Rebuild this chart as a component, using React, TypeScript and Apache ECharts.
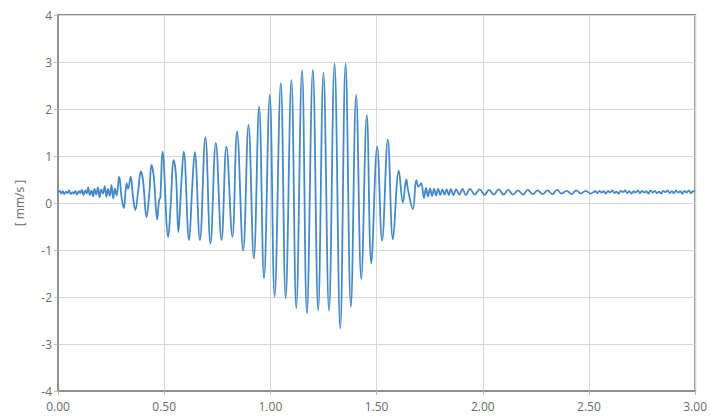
import React, { useEffect, useRef } from "react";
import * as echarts from "echarts";

// [time s, velocity mm/s]
const quietStart: [number, number][] = [
  [0.0, 0.22], [0.008, 0.26], [0.015, 0.2], [0.022, 0.25], [0.03, 0.19], [0.038, 0.24],
  [0.045, 0.21], [0.052, 0.27], [0.06, 0.19], [0.068, 0.23], [0.075, 0.2], [0.082, 0.26],
  [0.09, 0.18], [0.098, 0.25], [0.105, 0.21], [0.112, 0.28], [0.12, 0.17], [0.128, 0.27],
  [0.135, 0.2], [0.142, 0.33], [0.15, 0.17], [0.158, 0.27], [0.165, 0.14], [0.172, 0.3],
  [0.18, 0.18], [0.188, 0.33], [0.196, 0.12], [0.204, 0.29], [0.212, 0.2], [0.22, 0.36],
  [0.228, 0.13], [0.236, 0.3], [0.244, 0.15], [0.252, 0.38], [0.26, 0.1], [0.268, 0.31],
  [0.276, 0.16],
];

const burst: [number, number][] = [
  [0.288, 0.56], [0.3, 0.1], [0.31, -0.11], [0.323, 0.42], [0.33, 0.3], [0.342, 0.56],
  [0.354, 0.1], [0.364, -0.15], [0.378, 0.28], [0.39, 0.67], [0.4, 0.49], [0.417, -0.3],
  [0.43, 0.21], [0.44, 0.81], [0.451, 0.56], [0.467, -0.35], [0.476, 0.06], [0.482, 0.12],
  [0.492, 1.09], [0.519, -0.72], [0.53, -0.08], [0.545, 0.91], [0.556, 0.55], [0.567, -0.62],
  [0.58, 0.36], [0.592, 1.09], [0.617, -0.79], [0.632, 0.34], [0.644, 1.08], [0.668, -0.79],
  [0.694, 1.4], [0.718, -0.86], [0.743, 1.28], [0.77, -0.79], [0.793, 1.2], [0.821, -0.72],
  [0.843, 1.52], [0.872, -1.01], [0.897, 1.66], [0.922, -1.18], [0.947, 2.05], [0.97, -1.6],
  [0.997, 2.3], [1.02, -1.99], [1.049, 2.55], [1.072, -2.03], [1.099, 2.62], [1.122, -2.24],
  [1.149, 2.82], [1.172, -2.35], [1.2, 2.83], [1.225, -2.28], [1.25, 2.77], [1.276, -2.29],
  [1.302, 2.97], [1.329, -2.67], [1.354, 2.97], [1.379, -2.21], [1.404, 2.3], [1.428, -1.62],
  [1.454, 1.87], [1.475, -1.28], [1.503, 1.2], [1.526, -0.8], [1.553, 1.35], [1.577, -0.77],
];

const decay: [number, number][] = [
  [1.605, 0.69], [1.624, 0.01], [1.64, 0.5], [1.648, 0.28], [1.671, -0.13], [1.687, 0.49],
  [1.697, 0.35], [1.71, 0.42], [1.723, 0.11], [1.733, 0.32], [1.742, 0.14], [1.752, 0.31],
  [1.761, 0.15], [1.771, 0.3], [1.78, 0.16], [1.79, 0.3], [1.8, 0.17], [1.81, 0.29],
  [1.82, 0.18], [1.83, 0.29], [1.84, 0.17], [1.85, 0.3], [1.862, 0.17], [1.875, 0.29],
  [1.89, 0.18], [1.905, 0.3], [1.92, 0.17], [1.94, 0.3], [1.962, 0.18], [1.985, 0.29],
  [2.008, 0.17], [2.03, 0.28], [2.052, 0.18], [2.075, 0.29], [2.098, 0.18], [2.12, 0.28],
  [2.143, 0.18], [2.166, 0.27], [2.19, 0.18], [2.212, 0.28], [2.236, 0.19], [2.258, 0.27],
  [2.282, 0.19], [2.305, 0.27], [2.328, 0.19], [2.35, 0.28], [2.372, 0.2], [2.395, 0.26],
  [2.418, 0.19], [2.44, 0.27], [2.462, 0.2], [2.485, 0.26], [2.508, 0.2], [2.53, 0.25],
];

const tail: [number, number][] = [
  [2.54, 0.21], [2.55, 0.26], [2.56, 0.22], [2.57, 0.25], [2.58, 0.2], [2.59, 0.26],
  [2.6, 0.22], [2.61, 0.27], [2.62, 0.21], [2.63, 0.24], [2.64, 0.2], [2.65, 0.26],
  [2.66, 0.23], [2.67, 0.27], [2.68, 0.21], [2.69, 0.25], [2.7, 0.2], [2.71, 0.25],
  [2.72, 0.22], [2.73, 0.27], [2.74, 0.21], [2.75, 0.26], [2.76, 0.22], [2.77, 0.25],
  [2.78, 0.2], [2.79, 0.27], [2.8, 0.22], [2.81, 0.26], [2.82, 0.21], [2.83, 0.24],
  [2.84, 0.2], [2.85, 0.26], [2.86, 0.23], [2.87, 0.27], [2.88, 0.21], [2.89, 0.25],
  [2.9, 0.21], [2.91, 0.27], [2.92, 0.22], [2.93, 0.25], [2.94, 0.2], [2.95, 0.26],
  [2.96, 0.22], [2.97, 0.27], [2.98, 0.21], [2.99, 0.25], [3.0, 0.24],
];

const xTicks = { min: 0, max: 3, interval: 0.5 };
const yTicks = { min: -4, max: 4, interval: 1 };
const yName = "[ mm/s ]";

export default function App() {
  const ref = useRef<HTMLDivElement>(null);
  useEffect(() => {
    if (!ref.current) return;
    const chart = echarts.init(ref.current, undefined, { renderer: "svg" });
    const font = "'Open Sans', 'Noto Sans', sans-serif";
    chart.setOption({
      animation: false,
      backgroundColor: "#ffffff",
      grid: {
        left: 58,
        right: 14,
        top: 15,
        bottom: 25,
        show: true,
        borderColor: "#8f8f8f",
        borderWidth: 2,
      },
      xAxis: {
        type: "value",
        min: xTicks.min,
        max: xTicks.max,
        interval: xTicks.interval,
        axisLine: { show: true, onZero: false, lineStyle: { color: "#8f8f8f", width: 2 } },
        axisTick: { show: true, length: 4, lineStyle: { color: "#bdbdbd" } },
        axisLabel: {
          color: "#6b6b6b",
          fontFamily: font,
          fontSize: 12,
          margin: 9,
          formatter: (v: number) => v.toFixed(2),
        },
        splitLine: { show: true, lineStyle: { color: "#d6d6d6", width: 1 } },
      },
      yAxis: {
        type: "value",
        min: yTicks.min,
        max: yTicks.max,
        interval: yTicks.interval,
        name: yName,
        nameLocation: "middle",
        nameGap: 33,
        nameTextStyle: { color: "#6b6b6b", fontFamily: font, fontSize: 12 },
        axisLine: { show: true, onZero: false, lineStyle: { color: "#8f8f8f", width: 2 } },
        axisTick: { show: true, length: 4, lineStyle: { color: "#bdbdbd" } },
        axisLabel: { color: "#6b6b6b", fontFamily: font, fontSize: 12, margin: 6 },
        splitLine: { show: true, lineStyle: { color: "#d6d6d6", width: 1 } },
      },
      series: [
        {
          type: "line",
          data: [...quietStart, ...burst, ...decay, ...tail],
          showSymbol: false,
          smooth: 0.4,
          lineStyle: { color: "#4589c8", width: 1.8 },
          itemStyle: { color: "#4589c8" },
        },
      ],
    });
    return () => chart.dispose();
  }, []);
  return (
    <div
      ref={ref}
      style={{ position: "fixed", left: 0, top: 0, width: 710, height: 416 }}
    />
  );
}
